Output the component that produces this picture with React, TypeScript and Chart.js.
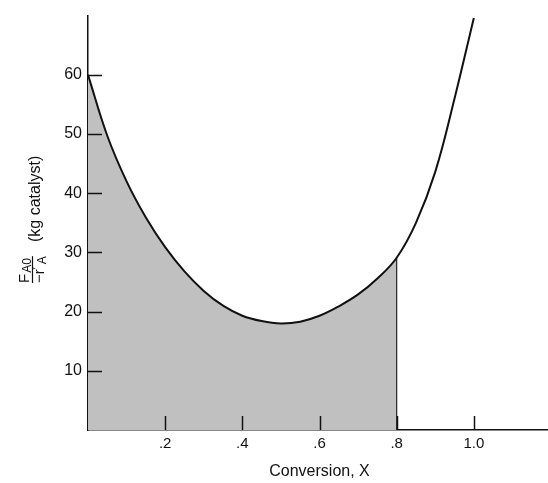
import React, { useEffect, useRef } from "react";
import { Chart, registerables } from "chart.js";

Chart.register(...registerables);

// Conversion X values and F_A0/(-r'_A) values (kg catalyst)
const conversion: number[] = [0, 0.05, 0.1, 0.15, 0.2, 0.25, 0.3, 0.35, 0.4, 0.45, 0.5, 0.55, 0.6, 0.65, 0.7, 0.75, 0.8, 0.85, 0.9, 0.95, 1.0];
const levenspiel: number[] = [60, 49.7, 42.0, 35.9, 30.9, 26.8, 23.5, 21.0, 19.3, 18.4, 18.0, 18.3, 19.3, 20.9, 22.9, 25.6, 29.1, 35.0, 43.6, 56.0, 69.6];
const shadeUpTo = 0.8;

const xTickValues: number[] = [0.2, 0.4, 0.6, 0.8, 1.0];
const xTickLabels: string[] = [".2", ".4", ".6", ".8", "1.0"];
const yTickValues: number[] = [10, 20, 30, 40, 50, 60];
const yTickLabels: string[] = ["10", "20", "30", "40", "50", "60"];

const xTitle = "Conversion, X";
const FONT = "'Liberation Sans', Arial, Helvetica, sans-serif";

export default function App() {
  const ref = useRef<HTMLCanvasElement | null>(null);

  useEffect(() => {
    if (!ref.current) return;
    const curve = conversion.map((x, i) => ({ x, y: levenspiel[i] }));
    const shaded = curve.filter((p) => p.x <= shadeUpTo + 1e-9);
    const last = shaded[shaded.length - 1];
    const vline = [
      { x: last.x, y: 0 },
      { x: last.x, y: last.y },
    ];

    const decor = {
      id: "decor",
      afterDraw(chart: any) {
        const ctx = chart.ctx as CanvasRenderingContext2D;
        const xs = chart.scales.x;
        const ys = chart.scales.y;
        const area = chart.chartArea;
        ctx.save();
        // inward ticks
        ctx.strokeStyle = "#111";
        ctx.lineWidth = 1.5;
        ctx.beginPath();
        for (const v of yTickValues) {
          const py = Math.round(ys.getPixelForValue(v)) + 0.5;
          ctx.moveTo(area.left, py);
          ctx.lineTo(area.left + 14, py);
        }
        for (const v of xTickValues) {
          const px = Math.round(xs.getPixelForValue(v)) + 0.5;
          ctx.moveTo(px, area.bottom);
          ctx.lineTo(px, area.bottom - 14);
        }
        ctx.stroke();

        // x title
        ctx.fillStyle = "#111";
        ctx.font = `16px ${FONT}`;
        ctx.textAlign = "center";
        ctx.textBaseline = "middle";
        ctx.fillText(xTitle, (area.left + area.right) / 2, 472);

        // y title (rotated), fraction F_A0 / -r'_A then (kg catalyst)
        ctx.rotate(-Math.PI / 2);
        ctx.textAlign = "left";
        ctx.textBaseline = "alphabetic";
        const u0 = -283;
        ctx.font = `15px ${FONT}`;
        ctx.fillText("F", u0, 29);
        const wF = ctx.measureText("F").width;
        ctx.font = `12px ${FONT}`;
        ctx.fillText("A0", u0 + wF + 1, 31);
        const wA0 = ctx.measureText("A0").width;
        // fraction bar
        ctx.lineWidth = 1.2;
        ctx.beginPath();
        ctx.moveTo(u0, 32.5);
        ctx.lineTo(u0 + wF + wA0 + 3, 32.5);
        ctx.stroke();
        // denominator
        ctx.font = `15px ${FONT}`;
        ctx.fillText("\u2212r", u0, 44);
        const wr = ctx.measureText("\u2212r").width;
        ctx.font = `12px ${FONT}`;
        ctx.fillText("\u2032", u0 + wr, 41);
        ctx.fillText("A", u0 + wr + 5, 46);
        // (kg catalyst)
        ctx.font = `16px ${FONT}`;
        ctx.fillText("(kg catalyst)", -242, 40);
        ctx.restore();
      },
    };

    const chart = new Chart(ref.current, {
      type: "line",
      data: {
        datasets: [
          {
            data: curve,
            borderColor: "#111",
            borderWidth: 2,
            pointRadius: 0,
            tension: 0.4,
            fill: false,
            order: 0,
          },
          {
            data: vline,
            borderColor: "#222",
            borderWidth: 1.2,
            pointRadius: 0,
            fill: false,
            order: 1,
          },
          {
            data: shaded,
            borderWidth: 0,
            borderColor: "rgba(0,0,0,0)",
            backgroundColor: "#c0c0c0",
            pointRadius: 0,
            tension: 0.4,
            fill: "origin",
            order: 2,
          },
        ],
      },
      options: {
        responsive: false,
        animation: false,
        layout: { padding: { left: 0, top: 7, right: 9, bottom: 0 } },
        plugins: {
          legend: { display: false },
          tooltip: { enabled: false },
          title: { display: false },
        },
        scales: {
          x: {
            type: "linear",
            min: 0,
            max: 1.2,
            afterFit: (s: any) => {
              s.height = 53;
            },
            afterBuildTicks: (s: any) => {
              s.ticks = xTickValues.map((v) => ({ value: v }));
            },
            ticks: {
              autoSkip: false,
              maxRotation: 0,
              padding: 5,
              color: "#111",
              font: { family: FONT, size: 15 },
              callback: (v: any) => {
                const i = xTickValues.findIndex((t) => Math.abs(t - Number(v)) < 1e-6);
                return i >= 0 ? xTickLabels[i] : "";
              },
            },
            grid: { display: false, drawTicks: false },
            border: { display: true, color: "#111", width: 1.5 },
          },
          y: {
            type: "linear",
            min: 0,
            max: 70,
            afterFit: (s: any) => {
              s.width = 88;
            },
            afterBuildTicks: (s: any) => {
              s.ticks = yTickValues.map((v) => ({ value: v }));
            },
            ticks: {
              autoSkip: false,
              padding: 6,
              color: "#111",
              font: { family: FONT, size: 16 },
              callback: (v: any) => {
                const i = yTickValues.findIndex((t) => Math.abs(t - Number(v)) < 1e-6);
                return i >= 0 ? yTickLabels[i] : "";
              },
            },
            grid: { display: false, drawTicks: false },
            border: { display: true, color: "#111", width: 1.5 },
          },
        },
      },
      plugins: [decor],
    });
    return () => chart.destroy();
  }, []);

  return (
    <div
      style={{
        position: "fixed",
        left: 0,
        top: 0,
        width: 548,
        height: 483,
        overflow: "hidden",
        background: "#fff",
      }}
    >
      <canvas ref={ref} width={560} height={483} style={{ display: "block" }} />
    </div>
  );
}
